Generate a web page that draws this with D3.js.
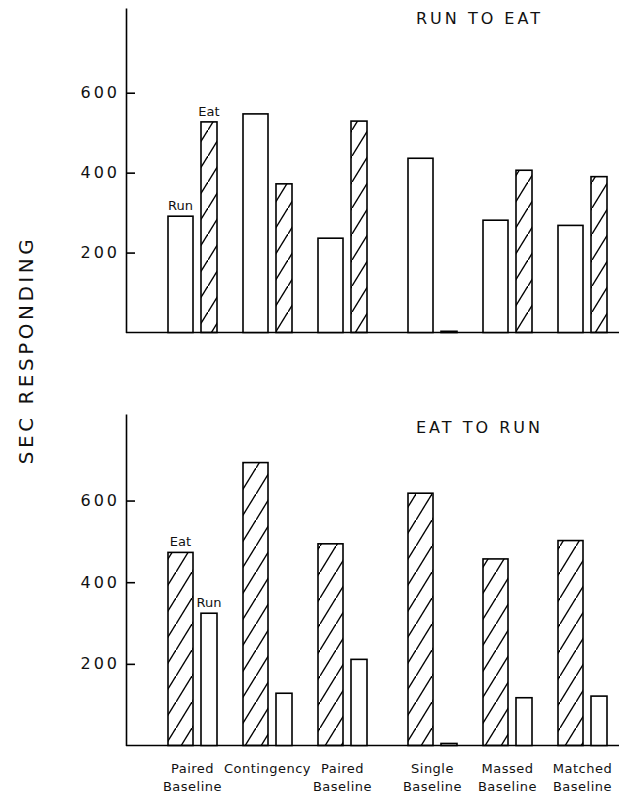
<!DOCTYPE html>
<meta charset="utf-8">
<script src="https://d3js.org/d3.v7.min.js"></script>
<style>
  body { margin: 0; background: #fff; }
  text { font-family: "DejaVu Sans", sans-serif; fill: #111; }
</style>
<div id="chart"></div>
<script>

var groups = [["Paired", "Baseline"], ["Contingency"], ["Paired", "Baseline"],
              ["Single", "Baseline"], ["Massed", "Baseline"], ["Matched", "Baseline"]];

// RUN TO EAT: run (open bar) first, eat (hatched) second
var runToEat_run = [291, 547, 236, 436, 281, 268];
var runToEat_eat = [527, 372, 529, 3, 406, 390];

// EAT TO RUN: eat (hatched) first, run (open bar) second
var eatToRun_eat = [473, 693, 494, 618, 457, 502];
var eatToRun_run = [324, 128, 211, 5, 117, 121];

var yTicks = [200, 400, 600];
var yMax = 812;

var width = 619, height = 794;
var axisX = 126;
var wideW = 25, narrowW = 16, gapW = 8;

var svg = d3.select("#chart")
  .append("svg")
    .attr("width", width)
    .attr("height", height);

// diagonal hatching
svg.append("defs")
  .append("pattern")
    .attr("id", "hatch")
    .attr("patternUnits", "userSpaceOnUse")
    .attr("width", 16)
    .attr("height", 26)
  .append("path")
    .attr("d", "M-2,29.25L18,-3.25")
    .attr("stroke", "#000")
    .attr("stroke-width", 1.4);

// group slots, a wider gap after the third group
function slot(i) { return i + (i >= 3 ? 0.2 : 0); }
var x = d3.scaleLinear().domain([0, 1]).range([168, 243]);

function drawPanel(top, bottom, title, titleY, first, second, firstHatched, firstName, secondName) {
  var y = d3.scaleLinear().domain([0, yMax]).range([bottom, top]);
  var g = svg.append("g");

  // baseline
  g.append("line")
    .attr("x1", axisX).attr("x2", width)
    .attr("y1", y(0)).attr("y2", y(0))
    .attr("stroke", "#000").attr("stroke-width", 1.6);

  var ax = g.append("g")
    .attr("transform", "translate(" + axisX + ",0)")
    .call(d3.axisLeft(y).tickValues(yTicks).tickSize(-9).tickSizeOuter(0).tickPadding(6));
  ax.select(".domain").attr("stroke-width", 1.6);
  ax.selectAll(".tick line").attr("stroke-width", 1.6);
  ax.selectAll("text")
    .style("font-family", "'DejaVu Sans', sans-serif")
    .style("font-size", "16px")
    .style("letter-spacing", "3px")
    .attr("fill", "#111");

  g.selectAll(".first")
    .data(first)
    .enter()
    .append("rect")
      .attr("x", function(d, i) { return x(slot(i)); })
      .attr("y", function(d) { return y(d); })
      .attr("width", wideW)
      .attr("height", function(d) { return y(0) - y(d); })
      .attr("fill", firstHatched ? "url(#hatch)" : "#fff")
      .attr("stroke", "#000")
      .attr("stroke-width", 1.6);

  g.selectAll(".second")
    .data(second)
    .enter()
    .append("rect")
      .attr("x", function(d, i) { return x(slot(i)) + wideW + gapW; })
      .attr("y", function(d) { return y(d); })
      .attr("width", narrowW)
      .attr("height", function(d) { return y(0) - y(d); })
      .attr("fill", firstHatched ? "#fff" : "url(#hatch)")
      .attr("stroke", "#000")
      .attr("stroke-width", 1.6);

  // bar names over the first group
  g.append("text")
    .attr("x", x(slot(0)) + wideW / 2)
    .attr("y", y(first[0]) - 6)
    .attr("text-anchor", "middle")
    .style("font-size", "13px")
    .text(firstName);
  g.append("text")
    .attr("x", x(slot(0)) + wideW + gapW + narrowW / 2)
    .attr("y", y(second[0]) - 6)
    .attr("text-anchor", "middle")
    .style("font-size", "13px")
    .text(secondName);

  g.append("text")
    .attr("x", 416)
    .attr("y", titleY)
    .style("font-size", "16px")
    .style("letter-spacing", "3px")
    .text(title);
}

drawPanel(8, 332.5, "RUN TO EAT", 24, runToEat_run, runToEat_eat, false, "Run", "Eat");
drawPanel(414, 745.5, "EAT TO RUN", 433, eatToRun_eat, eatToRun_run, true, "Eat", "Run");

// group labels
var lab = svg.append("g").selectAll("text")
  .data(groups)
  .enter()
  .append("text")
    .attr("text-anchor", "middle")
    .style("font-size", "13px")
    .style("letter-spacing", "0.5px");
lab.each(function(d, i) {
  var t = d3.select(this);
  var cx = x(slot(i)) + (wideW + gapW + narrowW) / 2;
  d.forEach(function(line, k) {
    t.append("tspan")
      .attr("x", cx)
      .attr("y", 773 + k * 18)
      .text(line);
  });
});

// y title
svg.append("text")
  .attr("transform", "translate(33,350) rotate(-90)")
  .attr("text-anchor", "middle")
  .style("font-size", "20px")
  .style("letter-spacing", "3.5px")
  .text("SEC RESPONDING");

</script>
